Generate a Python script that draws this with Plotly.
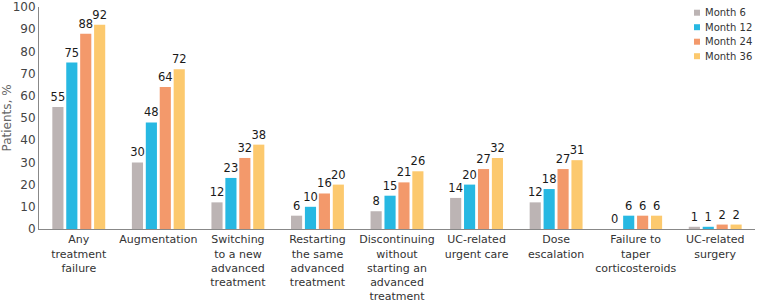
import plotly.graph_objects as go

categories = [
    "Any<br>treatment<br>failure",
    "Augmentation",
    "Switching<br>to a new<br>advanced<br>treatment",
    "Restarting<br>the same<br>advanced<br>treatment",
    "Discontinuing<br>without<br>starting an<br>advanced<br>treatment",
    "UC-related<br>urgent care",
    "Dose<br>escalation",
    "Failure to<br>taper<br>corticosteroids",
    "UC-related<br>surgery",
]
month6 = [55, 30, 12, 6, 8, 14, 12, 0, 1]
month12 = [75, 48, 23, 10, 15, 20, 18, 6, 1]
month24 = [88, 64, 32, 16, 21, 27, 27, 6, 2]
month36 = [92, 72, 38, 20, 26, 32, 31, 6, 2]
series_names = ["Month 6", "Month 12", "Month 24", "Month 36"]
colors = ["#bcb4b4", "#27b8e2", "#f3996b", "#fcc96e"]

font_family = "DejaVu Sans"
W, H = 758, 304
ML, MR, MT, MB = 39, 3, 7, 75
PW, PH = W - ML - MR, H - MT - MB

fig = go.Figure()
for name, vals, c in zip(series_names, [month6, month12, month24, month36], colors):
    fig.add_trace(go.Bar(
        x=categories, y=vals, name=name, marker_color=c, marker_line_width=0,
        text=[str(v) for v in vals], textposition="outside", constraintext="none",
        textfont=dict(size=11.5, color="#1a1a1a", family=font_family),
        cliponaxis=False, showlegend=False,
    ))

# legend drawn as small squares + text (layout elements, paper coordinates)
shapes, annotations = [], []
for i, (name, c) in enumerate(zip(series_names, colors)):
    yc = 12.7 + 14.5 * i               # row centre, px from top
    yp = (H - MB - yc) / PH
    x0 = (694 - ML) / PW
    x1 = (700 - ML) / PW
    h = 3 / PH
    shapes.append(dict(type="rect", xref="paper", yref="paper",
                       x0=x0, x1=x1, y0=yp - h, y1=yp + h,
                       fillcolor=c, line=dict(width=0)))
    annotations.append(dict(xref="paper", yref="paper", x=(703 - ML) / PW, y=yp,
                            xanchor="left", yanchor="middle", showarrow=False,
                            text=name, font=dict(size=10, color="#333333", family=font_family)))

fig.update_layout(
    width=W, height=H,
    margin=dict(l=ML, r=MR, t=MT, b=MB),
    paper_bgcolor="white", plot_bgcolor="white",
    barmode="group", bargap=0.3, bargroupgap=0.2,
    font=dict(family=font_family, size=12, color="#333333"),
    showlegend=False,
    shapes=shapes, annotations=annotations,
    xaxis=dict(showline=True, linecolor="#888888", linewidth=1, ticks="",
               automargin=False,
               tickfont=dict(size=11, color="#333333"), tickangle=0),
    yaxis=dict(range=[0, 100], dtick=10, showline=True, linecolor="#888888",
               linewidth=1, showgrid=False, zeroline=False, ticks="",
               automargin=False,
               tickfont=dict(size=12, color="#444444"),
               title=dict(text="Patients, %", font=dict(size=12, color="#666666"), standoff=4)),
)
fig.write_html("out.html", config={"displayModeBar": False},
               post_script="document.body.style.margin='0px';")
